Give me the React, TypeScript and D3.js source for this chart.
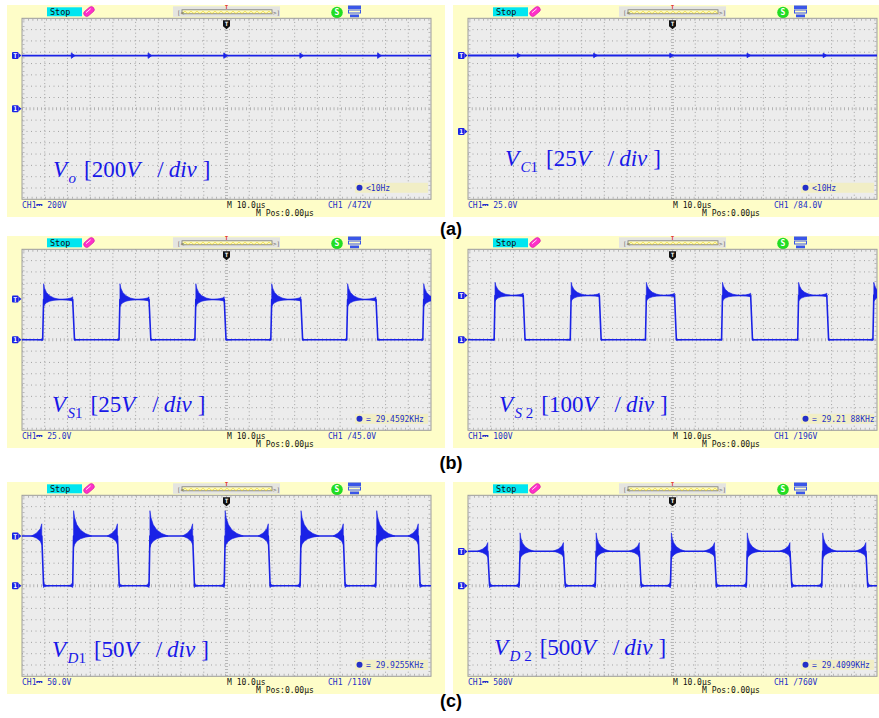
import React from 'react';
import * as d3 from 'd3';

// six scope captures: (a) Vo, VC1 / (b) VS1, VS2 / (c) VD1, VD2
const subLetters = ['o', 'C', 'S', 'S', 'D', 'D'];
const subDigits = ['', '1', '1', ' 2', '1', ' 2'];
const divLabels = ['200', '25', '25', '100', '50', '500'];
const voltsPerDiv = [200, 25, 25, 100, 50, 500];
const groundDiv = [0, -1, 0, 0, 0, 0];
const chLabels = ['200V', '25.0V', '25.0V', '100V', '50.0V', '500V'];
const trigVolts = [472, 84, 45, 196, 110, 760];
const trigLabels = ['472V', '84.0V', '45.0V', '196V', '110V', '760V'];
const freqLabels = ['<10Hz', '<10Hz', '= 29.4592KHz', '= 29.21 88KHz', '= 29.9255KHz', '= 29.4099KHz'];
const captions = ['(a)', '(b)', '(c)'];

// (a) DC traces: level (V) and the small switching spikes (us)
const dcLevels = [470, 84];
const dcSpikeTimes = [
  [22.9, 56.7, 90, 123.5, 157.7],
  [22.9, 56.5, 90, 124, 157.5],
];
const dcSpikeVolts = [24, 2.5];

// (b),(c) switching traces: edge times in us, alternating from the start level
const vs1Edges = [9.1, 22.3, 42.7, 55.9, 76.1, 89.0, 109.5, 122.7, 142.9, 155.8, 176.4];
const vs2Edges = [11.5, 24.3, 45.0, 57.8, 78.1, 90.9, 111.6, 124.4, 145.1, 157.9, 178.2];
const vd1Edges = [8.7, 22.3, 42.0, 55.9, 75.1, 89.0, 108.4, 122.4, 141.4, 155.7, 174.4];
const vd2Edges = [8.7, 22.5, 42.0, 56.0, 75.4, 89.1, 108.5, 122.5, 141.7, 155.7, 175.1];
const swEdges = [vs1Edges, vs2Edges, vd1Edges, vd2Edges];
const swStartHigh = [false, false, true, true];
const swHigh = [44.5, 196, 110, 765];
const swPeak = [62, 254, 166, 1170];
const swRingUs = [7, 7, 8, 6];
const swPreFall = [3, 10, 27, 190];
const swLowRing = [1.5, 6, 8, 90];

// layout
const ORIGINS = [[7, 5], [453, 5], [7, 236], [453, 236], [7, 482], [453, 482]];
const PW = 438, PH = 212;
const GX = 15, GY = 13.3, GW = 409, GH = 181;
const LABEL_POS = [[53, 176.7], [505, 166], [52, 411.7], [499, 411.7], [52, 656.7], [494, 655]];
const CAPTION_POS = [[451, 235], [451, 469], [451, 707]];

const BLUE = '#1a22e6';
const TXT_BLUE = '#2430c8';
const MONO = "'DejaVu Sans Mono', monospace";

const ringShape = [[0, 1], [0.06, 0.72], [0.18, 0.45], [0.38, 0.24], [0.65, 0.1], [1, 0]];
const growShape = [[0, 0], [0.5, 0.25], [0.85, 0.6], [1, 1]];

type P2 = [number, number];
type P3 = [number, number, number];

function Panel({ i }: { i: number }) {
  const [ox, oy] = ORIGINS[i];
  const x = d3.scaleLinear().domain([0, 180]).range([GX, GX + GW]);
  const vd = voltsPerDiv[i];
  const g = groundDiv[i];
  const y = d3.scaleLinear().domain([(-4 - g) * vd, (4 - g) * vd]).range([GY + GH, GY]);
  const line = d3.line<P2>().x(d => x(d[0])).y(d => y(d[1]));
  const area = d3.area<P3>().x(d => x(d[0])).y0(d => y(d[2])).y1(d => y(d[1]));
  const clipId = `clip${i}`;

  const vLines = d3.range(1, 18).map(k => GX + (k * GW) / 18);
  const hLines = d3.range(1, 16).map(k => GY + (k * GH) / 16);
  const cx = GX + GW / 2;
  const cy = GY + GH / 2;

  let traces: React.ReactNode[] = [];
  if (i < 2) {
    const L = dcLevels[i];
    const a = dcSpikeVolts[i];
    traces.push(<path key="dc" d={line([[0, L], [180, L]]) || ''} stroke={BLUE} strokeWidth={i === 1 ? 2 : 1.6} fill="none" />);
    dcSpikeTimes[i].forEach((t, k) => {
      traces.push(
        <path key={'s' + k} d={(line([[t - 1.2, L + a], [t + 0.4, L], [t - 1.2, L - a]]) || '') + 'Z'} fill={BLUE} stroke={BLUE} strokeWidth={0.8} />
      );
    });
  } else {
    const s = i - 2;
    const high = swHigh[s], low = 0, peak = swPeak[s];
    const edges = swEdges[s];
    let lvl = swStartHigh[s] ? high : low;
    const pts: P2[] = [[0, lvl]];
    const rings: P3[][] = [];
    edges.forEach(e => {
      pts.push([e, lvl]);
      if (lvl === high) {
        // ringing grows just before the turn-off edge
        rings.push(growShape.map(([f, a]) => [e - 4.5 * (1 - f), high + a * swPreFall[s], high - a * swPreFall[s] * 0.7] as P3));
        pts.push([e + 0.8, low]);
        rings.push(ringShape.map(([f, a]) => [e + 0.8 + f * 2.2, low + a * swLowRing[s], low - a * swLowRing[s] * 0.5] as P3));
        lvl = low;
      } else {
        rings.push(growShape.map(([f, a]) => [e - 2 * (1 - f), low + a * swLowRing[s], low - a * swLowRing[s] * 0.5] as P3));
        pts.push([e + 0.4, high]);
        rings.push(ringShape.map(([f, a]) => [e + 0.4 + f * swRingUs[s], high + a * (peak - high), high - a * (peak - high) * 0.45] as P3));
        lvl = high;
      }
    });
    pts.push([180, lvl]);
    traces.push(<path key="sq" d={line(pts) || ''} stroke={BLUE} strokeWidth={1.6} fill="none" strokeLinejoin="round" />);
    rings.forEach((r, k) => traces.push(<path key={'r' + k} d={area(r) || ''} fill={BLUE} stroke={BLUE} strokeWidth={0.6} />));
  }

  const trigY = y(trigVolts[i]);
  const gndY = y(0);
  const marker = (yy: number, ch: string, key: string) => (
    <g key={key} transform={`translate(${GX - 9},${yy})`}>
      <rect x={-1} y={-3.5} width={6.5} height={7} fill={BLUE} rx={1} />
      <path d="M5.5,-2.5 L8.5,0 L5.5,2.5 Z" fill={BLUE} />
      <text x={2.3} y={2.6} fontSize={6.5} fontFamily={MONO} fontWeight="bold" fill="#fff" textAnchor="middle">{ch}</text>
    </g>
  );

  const zig = d3.range(0, 31).map(k => `${175 + k * 3},${k % 2 ? 8.2 : 10.6}`).join(' ');

  return (
    <g transform={`translate(${ox},${oy})`}>
      <clipPath id={clipId}>
        <rect x={GX} y={GY} width={GW} height={GH} />
      </clipPath>
      <rect x={0} y={0} width={PW} height={PH} fill="#fefdc8" />
      {/* header */}
      <rect x={40} y={2.3} width={35} height={9} fill="#00e6f0" />
      <text x={43} y={9.8} fontSize={8.5} fontFamily={MONO} fill="#111">Stop</text>
      <g transform="translate(82,6.5) rotate(-40)">
        <rect x={-6} y={-3} width={12} height={6} rx={3} fill="#ff30c8" stroke="#c0109a" strokeWidth={0.5} />
        <line x1={-3} y1={-1} x2={3} y2={-1} stroke="#fff" strokeWidth={0.8} />
      </g>
      <rect x={166} y={1.3} width={107} height={10.5} fill="#e4e4e0" />
      <rect x={175} y={4.8} width={90} height={4} fill="#fffcc0" stroke="#777" strokeWidth={0.8} />
      <polyline points={zig} fill="none" stroke="#e8d020" strokeWidth={0.6} transform="translate(0,-2)" />
      <text x={170} y={9.6} fontSize={6} fontFamily={MONO} fill="#666">[&lt;</text>
      <text x={266} y={9.6} fontSize={6} fontFamily={MONO} fill="#666">&gt;]</text>
      <text x={cx} y={4} fontSize={5} fontFamily={MONO} fontWeight="bold" fill="#e01010" textAnchor="middle">T</text>
      <circle cx={330} cy={7.5} r={5.8} fill="#22dd22" />
      <text x={330} y={10.3} fontSize={8} fontFamily={MONO} fontWeight="bold" fill="#fff" textAnchor="middle">S</text>
      <g transform="translate(341,0.5)" fill="#3a56e8">
        <rect x={0} y={0} width={13} height={3.5} />
        <rect x={0.5} y={4.5} width={12} height={3} fill="none" stroke="#3a56e8" strokeWidth={1} />
        <rect x={2} y={9} width={9} height={2.8} />
      </g>

      {/* screen */}
      <rect x={GX} y={GY} width={GW} height={GH} fill="#ececec" />
      {vLines.map((vx, k) =>
        k === 8 ? null : <line key={'v' + k} x1={vx} x2={vx} y1={GY} y2={GY + GH} stroke="#a2a2a2" strokeWidth={1} strokeDasharray="1,2.6" />
      )}
      {hLines.map((hy, k) =>
        k === 7 ? null : <line key={'h' + k} x1={GX} x2={GX + GW} y1={hy} y2={hy} stroke="#a2a2a2" strokeWidth={1} strokeDasharray="1,3.5" />
      )}
      <line x1={cx} x2={cx} y1={GY} y2={GY + GH} stroke="#a6a6a6" strokeWidth={3} strokeDasharray="0.8,2.2" />
      <line x1={GX} x2={GX + GW} y1={cy} y2={cy} stroke="#a6a6a6" strokeWidth={3} strokeDasharray="0.8,3" />
      <rect x={GX} y={GY} width={GW} height={GH} fill="none" stroke="#9c9c9c" strokeWidth={1} />
      <rect x={GX + 1.5} y={GY + 1.5} width={GW - 3} height={GH - 3} fill="none" stroke="#a8a8a8" strokeWidth={2} strokeDasharray="0.8,3.7" />

      <g clipPath={`url(#${clipId})`}>{traces}</g>

      {/* trigger position */}
      <path d={`M${cx - 3.5},${GY + 2} h7 v6 l-3.5,3 l-3.5,-3 Z`} fill="#111" />
      <text x={cx} y={GY + 8} fontSize={6} fontFamily={MONO} fontWeight="bold" fill="#fff" textAnchor="middle">T</text>

      {marker(trigY, 'T', 'mt')}
      {marker(gndY, '1', 'm1')}

      {/* frequency readout */}
      <rect x={GX + 333} y={GY + 164.5} width={73} height={10} fill="#f1eec6" />
      <circle cx={GX + 337.5} cy={GY + 169.5} r={3} fill={TXT_BLUE} />
      <text x={GX + 344} y={GY + 172.6} fontSize={8} fontFamily={MONO} fill={TXT_BLUE}>{freqLabels[i]}</text>

      {/* footer */}
      <text x={GX} y={GY + GH + 9} fontSize={8} fontFamily={MONO} fill={TXT_BLUE}>{'CH1\u2393 ' + chLabels[i]}</text>
      <text x={GX + 205} y={GY + GH + 9} fontSize={8} fontFamily={MONO} fill="#111">M 10.0μs</text>
      <text x={GX + 234} y={GY + GH + 16.5} fontSize={8} fontFamily={MONO} fill="#111">M Pos:0.00μs</text>
      <text x={GX + 306} y={GY + GH + 9} fontSize={8} fontFamily={MONO} fill={TXT_BLUE}>{'CH1 /' + trigLabels[i]}</text>
    </g>
  );
}

function SignalLabel({ i }: { i: number }) {
  const [lx, ly] = LABEL_POS[i];
  const digit = subDigits[i];
  return (
    <text x={lx} y={ly} fill="#1818e8" fontFamily="'Liberation Serif', 'Times New Roman', serif" fontSize={23}>
      <tspan fontStyle="italic">V</tspan>
      <tspan fontStyle="italic" fontSize={15} dx={1.5} dy={6}>{subLetters[i]}</tspan>
      {digit ? <tspan fontSize={15}>{digit}</tspan> : null}
      <tspan dx={8} dy={-6}>[{divLabels[i]}</tspan>
      <tspan fontStyle="italic">V</tspan>
      <tspan dx={17}>/</tspan>
      <tspan dx={5} fontStyle="italic">div</tspan>
      <tspan dx={6}>]</tspan>
    </text>
  );
}

export default function App() {
  return (
    <svg width={879} height={718} style={{ position: 'absolute', left: 0, top: 0, background: '#fff' }}>
      <rect width={879} height={718} fill="#fff" />
      {ORIGINS.map((_, i) => <Panel key={i} i={i} />)}
      {ORIGINS.map((_, i) => <SignalLabel key={'l' + i} i={i} />)}
      {captions.map((c, k) => (
        <text key={c} x={CAPTION_POS[k][0]} y={CAPTION_POS[k][1]} fontSize={18} fontWeight="bold"
          fontFamily="'Liberation Sans', Arial, sans-serif" textAnchor="middle" fill="#000">{c}</text>
      ))}
    </svg>
  );
}
